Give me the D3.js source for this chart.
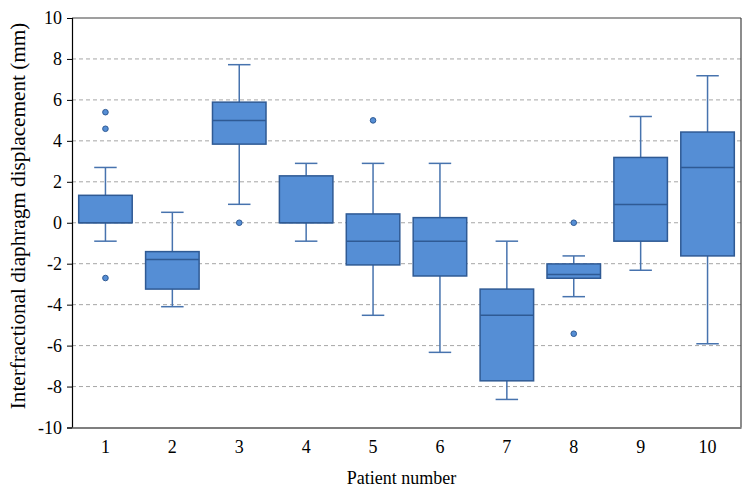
<!DOCTYPE html>
<html><head><meta charset="utf-8">
<script src="https://cdn.jsdelivr.net/npm/d3@7"></script>
<style>body{margin:0;background:#fff}svg{display:block}svg text{font-family:"Liberation Serif","Times New Roman",serif !important}</style>
</head><body><svg id="c" width="750" height="497"></svg>
<script>
const patients = ["1","2","3","4","5","6","7","8","9","10"];
const whiskerLow  = [-0.9, -4.1, 0.9, -0.9, -4.52, -6.33, -8.63, -3.61, -2.32, -5.91];
const q1          = [0,    -3.24, 3.84, 0,  -2.06, -2.6, -7.72, -2.71, -0.9, -1.62];
const medians     = [0,    -1.8, 5.0,  0,   -0.9, -0.9, -4.52, -2.53, 0.89, 2.7];
const q3          = [1.34, -1.41, 5.89, 2.29, 0.43, 0.25, -3.24, -2.01, 3.19, 4.43];
const whiskerHigh = [2.7,  0.51, 7.72, 2.9,  2.9,  2.9, -0.9, -1.62, 5.19, 7.18];
const outliers    = [[5.4, 4.59, -2.7], [], [0], [], [5.0], [], [], [0, -5.42], [], []];
const yTicks = [-10,-8,-6,-4,-2,0,2,4,6,8,10];

const svg = d3.select("#c");
const L = 72, R = 741, T = 18, B = 427.5;
const FONT = '"Liberation Serif", serif';
const x = d3.scaleBand().domain(patients).range([L, R]).paddingInner(0.2).paddingOuter(0.1);
const y = d3.scaleLinear().domain([-10, 10]).range([B, T]);

// gridlines
svg.append("g").selectAll("line").data(yTicks.filter(d => d > -10 && d < 10)).join("line")
  .attr("x1", L).attr("x2", R).attr("y1", d => y(d)).attr("y2", d => y(d))
  .attr("stroke", "#a6a6a6").attr("stroke-width", 1).attr("stroke-dasharray", "4,3");

// frame
svg.append("line").attr("x1", L).attr("x2", R).attr("y1", T).attr("y2", T).attr("stroke", "#404040").attr("stroke-width", 1.2);
svg.append("line").attr("x1", R).attr("x2", R).attr("y1", T).attr("y2", B).attr("stroke", "#404040").attr("stroke-width", 1.2);

const color = "#558ED5", stroke = "#2F5A94", wcol = "#4773AE";
const g = svg.append("g");
patients.forEach((p, i) => {
  const cx = x(p) + x.bandwidth() / 2, bw = x.bandwidth(), cap = bw * 0.42;
  g.append("line").attr("x1", cx).attr("x2", cx).attr("y1", y(whiskerHigh[i])).attr("y2", y(q3[i])).attr("stroke", wcol).attr("stroke-width", 1.5);
  g.append("line").attr("x1", cx).attr("x2", cx).attr("y1", y(q1[i])).attr("y2", y(whiskerLow[i])).attr("stroke", wcol).attr("stroke-width", 1.5);
  g.append("line").attr("x1", cx - cap/2).attr("x2", cx + cap/2).attr("y1", y(whiskerHigh[i])).attr("y2", y(whiskerHigh[i])).attr("stroke", wcol).attr("stroke-width", 1.5);
  g.append("line").attr("x1", cx - cap/2).attr("x2", cx + cap/2).attr("y1", y(whiskerLow[i])).attr("y2", y(whiskerLow[i])).attr("stroke", wcol).attr("stroke-width", 1.5);
  g.append("rect").attr("x", x(p)).attr("width", bw).attr("y", y(q3[i])).attr("height", Math.max(1, y(q1[i]) - y(q3[i])))
    .attr("fill", color).attr("stroke", stroke).attr("stroke-width", 1.5);
  g.append("line").attr("x1", x(p)).attr("x2", x(p) + bw).attr("y1", y(medians[i])).attr("y2", y(medians[i])).attr("stroke", stroke).attr("stroke-width", 1.5);
  g.selectAll(null).data(outliers[i]).join("circle").attr("cx", cx).attr("cy", d => y(d)).attr("r", 2.8)
    .attr("fill", color).attr("stroke", stroke).attr("stroke-width", 1);
});

// y axis
const ya = svg.append("g").attr("transform", `translate(${L},0)`)
  .call(d3.axisLeft(y).tickValues(yTicks).tickSize(5).tickPadding(5).tickFormat(d => String(d)));
ya.attr("font-family", FONT).attr("font-size", 18);
ya.select(".domain").attr("stroke", "#000").attr("stroke-width", 1.2);
ya.selectAll(".tick line").attr("stroke", "#000");
ya.selectAll("text").attr("fill", "#000");

// x axis
const xa = svg.append("g").attr("transform", `translate(0,${B})`)
  .call(d3.axisBottom(x).tickSize(0).tickPadding(13));
xa.attr("font-family", FONT).attr("font-size", 18);
xa.select(".domain").attr("stroke", "#7f7f7f").attr("stroke-width", 2.2);
xa.selectAll("text").attr("fill", "#000");

svg.append("text").attr("x", (L + R) / 2 - 5).attr("y", 484).attr("text-anchor", "middle")
  .attr("font-family", FONT).attr("font-size", 18).text("Patient number");
svg.append("text").attr("transform", `translate(25,216) rotate(-90)`).attr("text-anchor", "middle")
  .attr("font-family", FONT).attr("font-size", 21.2)
  .text("Interfractional diaphragm displacement (mm)");
</script></body></html>
